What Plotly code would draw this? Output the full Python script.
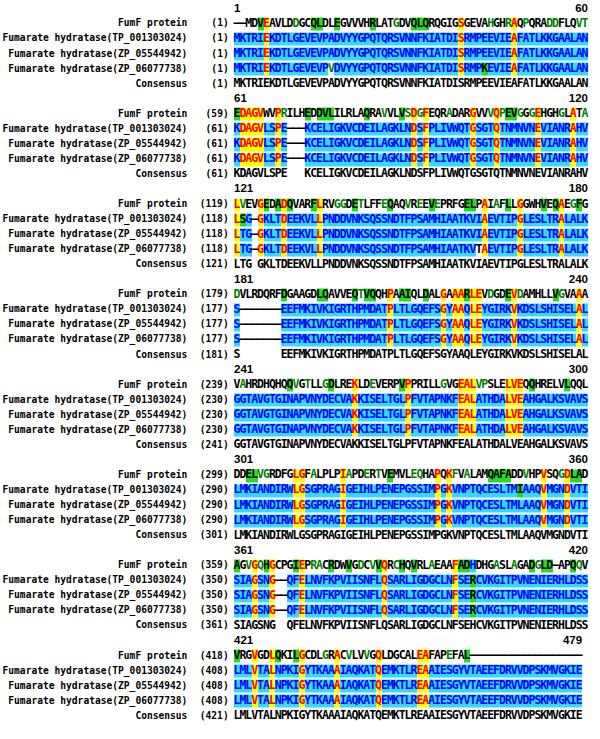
import plotly.graph_objects as go

# ---------------- data ----------------
seq_names = ["FumF protein",
             "Fumarate hydratase(TP_001303024)",
             "Fumarate hydratase(ZP_05544942)",
             "Fumarate hydratase(ZP_06077738)",
             "Consensus"]

fumf = [
    "--MDVEAVLDDGCQLDLEGVVVHRLATGDVQLQRQGIGSGEVAHGHRAQPQRADDFLQVT",
    "EDAGVWVPRILHEDDVLILRLAQRAVVLVSDGFEQRADARGVVVQPEVGGGEHGHGLATA",
    "LVEVGEDADQVARFLRVGGDETLFFEQAQVREEVEPRFGELPAIAFLLGGWHVEQAEGFG",
    "DVLRDQRFDGAAGDLQAVVEQTVQQHPAAIQLDALGAAARLEVDGDEVDAMHLLVGVAAA",
    "VAHRDHQHQQVGTLLGDLREKLDEVERPVPPRILLGVGEALVPSLELVEQQHRELVLQQL",
    "DDELVGRDFGLGFALPLPIAPDERTVEMVLEQHAPQKFVALAMQAFADDVHPVSQGDLAD",
    "AGVGQHGCPGIEPRACRDWVGDCVVQRCHQVRLAEAAFADHDHGASLAGADGLD-APQQV",
    "VRGVGDLQKILGCDLGRACVLVVGQLDGCALEAFAPEFAL-------------------",
]

tp_001303024 = [
    "MKTRIEKDTLGEVEVPADVYYGPQTQRSVNNFKIATDISRMPEEVIEAFATLKKGAALAN",
    "KDAGVLSPE---KCELIGKVCDEILAGKLNDSFPLIVWQTGSGTQTNMNVNEVIANRAHV",
    "LSG-GKLTDEEKVLLPNDDVNKSQSSNDTFPSAMHIAATKVIAEVTIPGLESLTRALALK",
    "S-------EEFMKIVKIGRTHPMDATPLTLGQEFSGYAAQLEYGIRKVKDSLSHISELAL",
    "GGTAVGTGINAPVNYDECVAKKISELTGLPFVTAPNKFEALATHDALVEAHGALKSVAVS",
    "LMKIANDIRWLGSGPRAGIGEIHLPENEPGSSIMPGKVNPTQCESLTMIAAQVMGNDVTI",
    "SIAGSNG--QFELNVFKPVIISNFLQSARLIGDGCLNFSERCVKGITPVNENIERHLDSS",
    "LMLVTALNPKIGYTKAAAIAQKATQEMKTLREAAIESGYVTAEEFDRVVDPSKMVGKIE",
]

zp_05544942 = [
    "MKTRIEKDTLGEVEVPADVYYGPQTQRSVNNFKIATDISRMPEEVIEAFATLKKGAALAN",
    "KDAGVLSPE---KCELIGKVCDEILAGKLNDSFPLIVWQTGSGTQTNMNVNEVIANRAHV",
    "LTG-GKLTDEEKVLLPNDDVNKSQSSNDTFPSAMHIAATKVIAEVTIPGLESLTRALALK",
    "S-------EEFMKIVKIGRTHPMDATPLTLGQEFSGYAAQLEYGIRKVKDSLSHISELAL",
    "GGTAVGTGINAPVNYDECVAKKISELTGLPFVTAPNKFEALATHDALVEAHGALKSVAVS",
    "LMKIANDIRWLGSGPRAGIGEIHLPENEPGSSIMPGKVNPTQCESLTMLAAQVMGNDVTI",
    "SIAGSNG--QFELNVFKPVIISNFLQSARLIGDGCLNFSERCVKGITPVNENIERHLDSS",
    "LMLVTALNPKIGYTKAAAIAQKATQEMKTLREAAIESGYVTAEEFDRVVDPSKMVGKIE",
]

zp_06077738 = [
    "MKTRIEKDTLGEVEVPVDVYYGPQTQRSVNNFKIATDISRMPKEVIEAFATLKKGAALAN",
    "KDAGVLSPE---KCELIGKVCDEILAGKLNDSFPLIVWQTGSGTQTNMNVNEVIANRAHV",
    "LTG-GKLTDEEKVLLPNDDVNKSQSSNDTFPSAMHIAATKVTAEVTIPGLESLTRALALK",
    "S-------EEFMKIVKIGRTHPMDATPLTLGQEFSGYAAQLEYGIRKVKDSLSHISELAL",
    "GGTAVGTGINAPVNYDECVAKKISELTGLPFVTAPNKFEALATHDALVEAHGALKSVAVS",
    "LMKIANDIRWLGSGPRAGIGEIHLPENEPGSSIMPGKVNPTQCESLTMLAAQVMGNDVTI",
    "SIAGSNG--QFELNVFKPVIISNFLQSARLIGDGCLNFSERCVKGITPVNENIERHLDSS",
    "LMLVTALNPKIGYTKAAAIAQKATQEMKTLREAAIESGYVTAEEFDRVVDPSKMVGKIE",
]

consensus = [
    "MKTRIEKDTLGEVEVPADVYYGPQTQRSVNNFKIATDISRMPEEVIEAFATLKKGAALAN",
    "KDAGVLSPE   KCELIGKVCDEILAGKLNDSFPLIVWQTGSGTQTNMNVNEVIANRAHV",
    "LTG GKLTDEEKVLLPNDDVNKSQSSNDTFPSAMHIAATKVIAEVTIPGLESLTRALALK",
    "S       EEFMKIVKIGRTHPMDATPLTLGQEFSGYAAQLEYGIRKVKDSLSHISELAL",
    "GGTAVGTGINAPVNYDECVAKKISELTGLPFVTAPNKFEALATHDALVEAHGALKSVAVS",
    "LMKIANDIRWLGSGPRAGIGEIHLPENEPGSSIMPGKVNPTQCESLTMLAAQVMGNDVTI",
    "SIAGSNG  QFELNVFKPVIISNFLQSARLIGDGCLNFSEHCVKGITPVNENIERHLDSS",
    "LMLVTALNPKIGYTKAAAIAQKATQEMKTLREAAIESGYVTAEEFDRVVDPSKMVGKIE",
]

block_width = 60

# ---------------- styling / layout constants ----------------
W, H = 600, 739
COL_LEFT_PX = 234.0      # left edge of first residue cell
COL_PX = 5.9             # width of a residue cell
ROW0_PX = 9.0            # centre of first header row
ROW_PX = 15.05           # row pitch
ROWS_PER_BLOCK = 6

YELLOW, CYAN, GREEN = "#FFFF00", "#33D9FF", "#22DD22"
RED, BLUE, GTEXT, BLACK = "#FF0000", "#0000FF", "#008000", "#000000"

STRONG = ["STA", "NEQK", "NHQK", "NDEQ", "QHRK", "MILV", "MILF", "HY", "FYW"]
WEAK = ["CSA", "ATV", "SAG", "STNK", "STPA", "SGND", "SNDEQK", "NDEQHK",
        "NEQHRK", "FVLIM", "HFY"]


def similar(a, b, groups):
    return any(a in g and b in g for g in groups)


# axis ranges so that 1 unit = one residue column / one row
x_lo = (0 - COL_LEFT_PX) / COL_PX - 0.5
x_hi = (W - COL_LEFT_PX) / COL_PX - 0.5
y_lo = (0 - ROW0_PX) / ROW_PX
y_hi = (H - ROW0_PX) / ROW_PX

n_blocks = len(fumf)
n_rows = n_blocks * ROWS_PER_BLOCK
z = [[None] * block_width for _ in range(n_rows)]
txt = {RED: ([], [], []), BLUE: ([], [], []), GTEXT: ([], [], []), BLACK: ([], [], [])}


def put(color, x, y, ch):
    txt[color][0].append(x)
    txt[color][1].append(y)
    txt[color][2].append(ch)


label_x, label_y, label_t = [], [], []
num_x, num_y, num_t = [], [], []
hs_x, hs_y, hs_t, he_x, he_y, he_t = [], [], [], [], [], []

counts = [0, 0, 0, 0]
for b in range(n_blocks):
    rows = [fumf[b], tp_001303024[b], zp_05544942[b], zp_06077738[b]]
    cons = consensus[b]
    ncol = len(cons)
    base = b * ROWS_PER_BLOCK
    # header numbers
    start_col = b * block_width + 1
    hs_x.append(-0.5); hs_y.append(base); hs_t.append(str(start_col))
    he_x.append(ncol - 0.5); he_y.append(base); he_t.append(str(start_col + ncol - 1))
    # row labels + numbering
    for k in range(5):
        y = base + 1 + k
        label_x.append(-8.4); label_y.append(y); label_t.append(seq_names[k])
        n = counts[k] + 1 if k < 4 else start_col
        num_x.append(-1.4); num_y.append(y); num_t.append("(%d)" % n)
    for k in range(4):
        counts[k] += sum(1 for c in rows[k] if c != "-")
    # residues
    for j in range(ncol):
        col = [r[j] for r in rows]
        cc = cons[j]
        all_same = col[0] != "-" and all(c == col[0] for c in col)
        for k, c in enumerate(col):
            y = base + 1 + k
            if c == "-":
                put(BLACK, j, y, "\u2013")
            elif all_same:
                z[y][j] = 1
                put(RED, j, y, c)
            elif cc != " " and c == cc:
                z[y][j] = 2
                put(BLUE, j, y, c)
            elif cc != " " and similar(c, cc, STRONG):
                z[y][j] = 3
                put(BLACK, j, y, c)
            elif cc != " " and similar(c, cc, WEAK):
                put(GTEXT, j, y, c)
            else:
                put(BLACK, j, y, c)
        if cc != " ":
            put(BLACK, j, base + 5, cc)

fig = go.Figure()
fig.add_trace(go.Heatmap(
    z=z, x=list(range(block_width)), y=list(range(n_rows)),
    zmin=0.5, zmax=3.5, showscale=False, ygap=2, xgap=0,
    colorscale=[[0, YELLOW], [1 / 3, YELLOW], [1 / 3, CYAN], [2 / 3, CYAN],
                [2 / 3, GREEN], [1, GREEN]],
    hoverinfo="skip"))

SEQ_FONT = "DejaVu Sans Mono"
for color, (xs, ys, ts) in txt.items():
    fig.add_trace(go.Scatter(
        x=xs, y=ys, text=ts, mode="text", textposition="middle center",
        textfont=dict(family=SEQ_FONT, size=11.5, color=color, weight="bold"),
        hoverinfo="skip", showlegend=False))

fig.add_trace(go.Scatter(
    x=label_x, y=label_y, text=label_t, mode="text", textposition="middle left",
    textfont=dict(family="DejaVu Sans Mono", size=9.6, color=BLACK, weight="bold"),
    hoverinfo="skip", showlegend=False))
fig.add_trace(go.Scatter(
    x=num_x, y=num_y, text=num_t, mode="text", textposition="middle left",
    textfont=dict(family="DejaVu Sans Mono", size=9.6, color=BLACK, weight="bold"),
    hoverinfo="skip", showlegend=False))
fig.add_trace(go.Scatter(
    x=hs_x, y=hs_y, text=hs_t, mode="text", textposition="middle right",
    textfont=dict(family="Liberation Sans", size=11.5, color=BLACK, weight="bold"),
    hoverinfo="skip", showlegend=False))
fig.add_trace(go.Scatter(
    x=he_x, y=he_y, text=he_t, mode="text", textposition="middle left",
    textfont=dict(family="Liberation Sans", size=11.5, color=BLACK, weight="bold"),
    hoverinfo="skip", showlegend=False))

fig.update_layout(
    width=W, height=H, margin=dict(l=0, r=0, t=0, b=0),
    paper_bgcolor="white", plot_bgcolor="white", showlegend=False,
    xaxis=dict(range=[x_lo, x_hi], visible=False, fixedrange=True),
    yaxis=dict(range=[y_hi, y_lo], visible=False, fixedrange=True),
)
fig.write_html("out.html",
               config={"displayModeBar": False, "staticPlot": True},
               post_script="document.body.style.margin='0px';"
                           "document.body.style.overflow='hidden';")
